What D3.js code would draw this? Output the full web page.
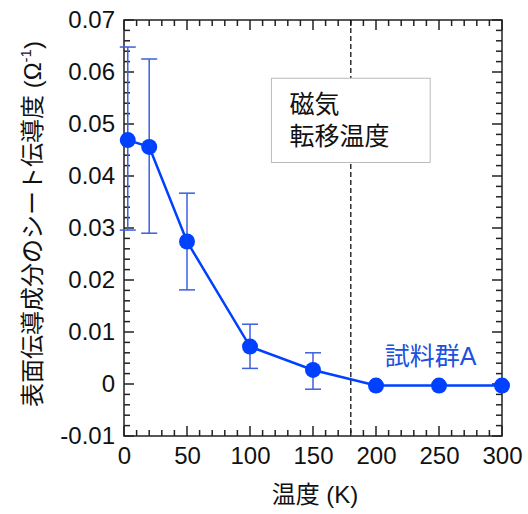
<!DOCTYPE html>
<html>
<head>
<meta charset="utf-8">
<script src="https://cdn.jsdelivr.net/npm/d3@7"></script>
<style>
  body { margin: 0; background: #fff; }
  text { font-family: "Liberation Sans", Arial, "Noto Sans CJK JP", sans-serif; }
</style>
</head>
<body>
<svg width="528" height="514"></svg>
<script>
// data
var temps = [3, 20, 50, 100, 150, 200, 250, 300];
var sigma = [0.0469, 0.0456, 0.0274, 0.0072, 0.0027, -0.0003, -0.0003, -0.0003];
var errHi = [0.0648, 0.0625, 0.0367, 0.0115, 0.0060, null, null, null];
var errLo = [0.0296, 0.0290, 0.0181, 0.0030, -0.0010, null, null, null];
var xTicks = [0, 50, 100, 150, 200, 250, 300];
var yTicks = [-0.01, 0, 0.01, 0.02, 0.03, 0.04, 0.05, 0.06, 0.07];
var transitionT = 180;

var svg = d3.select("svg"),
    margin = {left: 124, right: 26, top: 20, bottom: 78},
    width = +svg.attr("width") - margin.left - margin.right,
    height = +svg.attr("height") - margin.top - margin.bottom;

var x = d3.scaleLinear().domain([0, 300]).range([0, width]);
var y = d3.scaleLinear().domain([-0.01, 0.07]).range([height, 0]);

var g = svg.append("g").attr("transform", "translate(" + margin.left + "," + margin.top + ")");

var blue = "#0040ff", errBlue = "#3a5fe0", ink = "#222";

var xMinor = d3.range(0, 301, 10);
var yMinor = d3.range(0, 41).map(function(i) { return -0.01 + i * 0.002; });

// inward ticks on all four sides
var tickLines = [];
xMinor.forEach(function(v) {
  var L = v % 50 === 0 ? 10 : 6;
  tickLines.push({x1: x(v), x2: x(v), y1: height, y2: height - L});
  tickLines.push({x1: x(v), x2: x(v), y1: 0, y2: L});
});
yMinor.forEach(function(v, i) {
  var L = i % 5 === 0 ? 10 : 6;
  tickLines.push({x1: 0, x2: L, y1: y(v), y2: y(v)});
  tickLines.push({x1: width, x2: width - L, y1: y(v), y2: y(v)});
});
g.selectAll(".tk").data(tickLines).enter().append("line")
  .attr("class", "tk")
  .attr("x1", function(d) { return d.x1; }).attr("x2", function(d) { return d.x2; })
  .attr("y1", function(d) { return d.y1; }).attr("y2", function(d) { return d.y2; })
  .attr("stroke", ink).attr("stroke-width", 1.5);

// tick labels via d3 axes
g.append("g").attr("transform", "translate(0," + height + ")")
  .call(d3.axisBottom(x).tickValues(xTicks).tickSize(0).tickPadding(11).tickFormat(d3.format("d")));
g.append("g")
  .call(d3.axisLeft(y).tickValues(yTicks).tickSize(0).tickPadding(9).tickFormat(function(d) {
    return Math.abs(d) < 1e-9 ? "0" : d3.format(".2f")(d).replace("\u2212", "-");
  }));
g.selectAll(".domain").remove();
g.selectAll(".tick text").attr("fill", "#111").style("font-size", "24px");

// frame
g.append("rect").attr("width", width).attr("height", height)
  .attr("fill", "none").attr("stroke", ink).attr("stroke-width", 1.5);

// transition line
g.append("line")
  .attr("x1", x(transitionT)).attr("x2", x(transitionT))
  .attr("y1", 0).attr("y2", height)
  .attr("stroke", "#111").attr("stroke-width", 1.3).attr("stroke-dasharray", "5,3");

// annotation box
var bx = x(117), by = y(0.0588), bw = x(243) - x(117), bh = y(0.0426) - y(0.0588);
g.append("rect").attr("x", bx).attr("y", by).attr("width", bw).attr("height", bh)
  .attr("fill", "#fff").attr("stroke", "#bbb").attr("stroke-width", 1);
g.append("text").attr("x", bx + 18).attr("y", by + 35).text("磁気")
  .style("font-size", "25px").attr("fill", "#111");
g.append("text").attr("x", bx + 18).attr("y", by + 67).text("転移温度")
  .style("font-size", "25px").attr("fill", "#111");

var pts = temps.map(function(t, i) {
  return {t: t, v: sigma[i], hi: errHi[i], lo: errLo[i]};
});

// error bars
var eb = g.selectAll(".err").data(pts.filter(function(d) { return d.hi !== null; }))
  .enter().append("g").attr("class", "err")
  .attr("stroke", errBlue).attr("stroke-width", 1.5);
eb.append("line")
  .attr("x1", function(d) { return x(d.t); }).attr("x2", function(d) { return x(d.t); })
  .attr("y1", function(d) { return y(d.hi); }).attr("y2", function(d) { return y(d.lo); });
eb.append("line")
  .attr("x1", function(d) { return x(d.t) - 8; }).attr("x2", function(d) { return x(d.t) + 8; })
  .attr("y1", function(d) { return y(d.hi); }).attr("y2", function(d) { return y(d.hi); });
eb.append("line")
  .attr("x1", function(d) { return x(d.t) - 8; }).attr("x2", function(d) { return x(d.t) + 8; })
  .attr("y1", function(d) { return y(d.lo); }).attr("y2", function(d) { return y(d.lo); });

// line + markers
g.append("path").datum(pts)
  .attr("fill", "none").attr("stroke", blue).attr("stroke-width", 2.5)
  .attr("d", d3.line().x(function(d) { return x(d.t); }).y(function(d) { return y(d.v); }));

g.selectAll(".pt").data(pts).enter().append("circle")
  .attr("class", "pt")
  .attr("cx", function(d) { return x(d.t); })
  .attr("cy", function(d) { return y(d.v); })
  .attr("r", 8).attr("fill", blue);

// series label
g.append("text").attr("x", x(207)).attr("y", y(0.0037)).text("試料群A")
  .attr("fill", "#2050e0").style("font-size", "25px");

// axis titles
svg.append("text")
  .attr("transform", "translate(41," + (margin.top + height / 2 - 4) + ") rotate(-90)")
  .attr("text-anchor", "middle").style("font-size", "24px").attr("fill", "#111")
  .html('表面伝導成分のシート伝導度 (Ω<tspan dy="-10" font-size="15">-1</tspan><tspan dy="10">)</tspan>');

svg.append("text")
  .attr("x", margin.left + width / 2 + 2).attr("y", 503)
  .attr("text-anchor", "middle").style("font-size", "24px").attr("fill", "#111")
  .text("温度 (K)");
</script>
</body>
</html>
